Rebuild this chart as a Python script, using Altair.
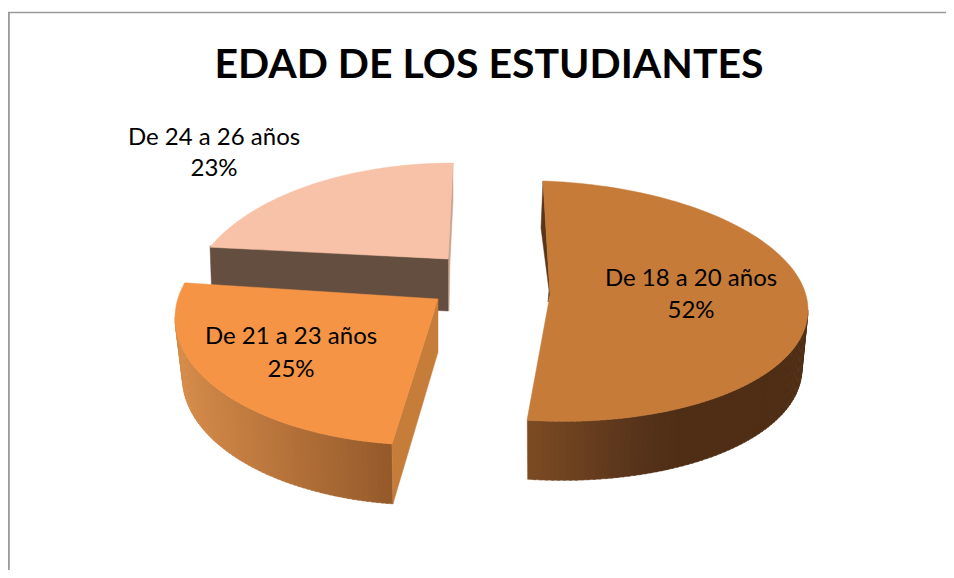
import math
import altair as alt
import pandas as pd

# ---- data
title_text = "EDAD DE LOS ESTUDIANTES"
categories = ["De 18 a 20 años", "De 21 a 23 años", "De 24 a 26 años"]
shares = [52, 25, 23]

# ---- colours
top_colors = ["#C67B38", "#F49444", "#F7C2A7"]
wall_stops = [
    [(527, "#7C4B23"), (640, "#56331A"), (680, "#4F2E15"), (810, "#4F2E15")],
    [(175, "#D68C4A"), (393, "#94592A")],
    None,
]
face_colors = {"sliver1": "#5A3518", "cut2": "#C67D3A", "wall3": "#644E40", "sliver3": "#CDA38D"}

# ---- layout of the tilted, exploded pie (page pixels)
views = [
    dict(apex=(550, 295), c=(543, 301), rx=265, ry=120, tilt=9, shift=0.0, stretch=0.98, depth=59, bscale=0.977, wall=(90, 183)),
    dict(apex=(438, 299), c=(425, 318), rx=250, ry=127, tilt=0, shift=0.4, stretch=1.094, depth=60, bscale=0.97, wall=(187.6, 270)),
    dict(apex=(448, 259), c=(453, 303), rx=265, ry=140, tilt=0, shift=16.3, stretch=0.803, depth=52, bscale=1.0, wall=None),
]
label_pos = [(691, 286, 318), (291, 344, 377), (214, 145, 176)]
TITLE_X, TITLE_Y = 489, 78
OFF = 8  # page margin


def hex2rgb(h):
    return [int(h[i:i + 2], 16) for i in (1, 3, 5)]


def ramp(stops, x):
    if x <= stops[0][0]:
        return stops[0][1]
    for (x0, c0), (x1, c1) in zip(stops, stops[1:]):
        if x <= x1:
            t = (x - x0) / (x1 - x0)
            a, b = hex2rgb(c0), hex2rgb(c1)
            return "#%02x%02x%02x" % tuple(round(p + (q - p) * t) for p, q in zip(a, b))
    return stops[-1][1]


def rim(v, phi):
    r = math.radians(phi)
    return (v["c"][0] + v["rx"] * math.sin(r),
            v["c"][1] - v["ry"] * math.cos(r) + v["tilt"] * math.sin(r))


def under(v, p):
    return (v["c"][0] + (p[0] - v["c"][0]) * v["bscale"], p[1] + v["depth"])


features = []


def add(points, color, stroke=0.0):
    ring = [list(p) for p in points] + [list(points[0])]
    features.append({"type": "Feature",
                     "geometry": {"type": "Polygon", "coordinates": [ring]},
                     "properties": {"fill": color}})


# cumulative angles come from the shares
starts, run = [], 0.0
for s in shares:
    starts.append(run)
    run += s / sum(shares) * 360


def arc_of(i, n=120):
    v = views[i]
    a0 = starts[i] + v["shift"]
    span = shares[i] / sum(shares) * 360 * v["stretch"]
    return [rim(v, a0 + span * k / n) for k in range(n + 1)]


def wall_of(i, n=70):
    v = views[i]
    lo, hi = v["wall"]
    for k in range(n):
        a = lo + (hi - lo) * k / n
        b = lo + (hi - lo) * (k + 1) / n + 0.4
        pa, pb = rim(v, a), rim(v, b)
        add([pa, pb, under(v, pb), under(v, pa)], ramp(wall_stops[i], (pa[0] + pb[0]) / 2))


# slice 3 (back)
v3 = views[2]
a3 = arc_of(2)
add([(453, 163), (453, 200), (450, 262), (449, 311), (448, 311), v3["apex"]], face_colors["sliver3"])
add([(210, 246), v3["apex"], (448, 311), (212, 300)], face_colors["wall3"])
add([v3["apex"]] + a3, top_colors[2])

# slice 2
v2 = views[1]
a2 = arc_of(1)
wall_of(1)
add([v2["apex"], a2[0], under(v2, a2[0]), (438, 352)], face_colors["cut2"])
add([v2["apex"]] + a2, top_colors[1])

# slice 1
v1 = views[0]
a1 = arc_of(0)
wall_of(0)
add([(543, 181), (541, 228), (549, 290), (548, 302), v1["apex"]], face_colors["sliver1"])
add([v1["apex"]] + a1, top_colors[0])

pie = (
    alt.Chart(alt.Data(values=features))
    .mark_geoshape(strokeWidth=0.5)
    .encode(fill=alt.Fill("properties.fill:N", scale=None, legend=None),
            stroke=alt.Stroke("properties.fill:N", scale=None, legend=None))
    .project(type="identity", scale=1, translate=[-OFF, -OFF])
)

rows = []
for name, share, (x, y1, y2) in zip(categories, shares, label_pos):
    rows.append({"t": name, "x": x - OFF, "y": y1 - OFF})
    rows.append({"t": f"{share}%", "x": x - OFF, "y": y2 - OFF})

labels = (
    alt.Chart(pd.DataFrame(rows))
    .mark_text(font="Lato", fontSize=24, color="#000000", align="center", baseline="alphabetic")
    .encode(x=alt.X("x:Q", scale=None, axis=None), y=alt.Y("y:Q", scale=None, axis=None), text="t:N")
)

title = (
    alt.Chart(pd.DataFrame({"t": [title_text], "x": [TITLE_X - OFF], "y": [TITLE_Y - OFF]}))
    .mark_text(font="Lato", fontSize=41, fontWeight="bold", color="#000000", align="center", baseline="alphabetic")
    .encode(x=alt.X("x:Q", scale=None, axis=None), y=alt.Y("y:Q", scale=None, axis=None), text="t:N")
)

frame_top = alt.Chart(pd.DataFrame({"a": [0]})).mark_rule(color="#9A9A9A", strokeWidth=1.5).encode(
    x=alt.value(0), x2=alt.value(938), y=alt.value(4.5))
frame_left = alt.Chart(pd.DataFrame({"a": [0]})).mark_rule(color="#9A9A9A", strokeWidth=2).encode(
    x=alt.value(0.8), y=alt.value(4), y2=alt.value(562))

chart = (
    alt.layer(frame_top, frame_left, pie, labels, title)
    .properties(width=938, height=562, padding=0, autosize=alt.AutoSizeParams(type="none"), background="#FFFFFF")
    .configure_view(stroke=None)
)

chart.save("out.html", embed_options={"renderer": "svg", "actions": False})
